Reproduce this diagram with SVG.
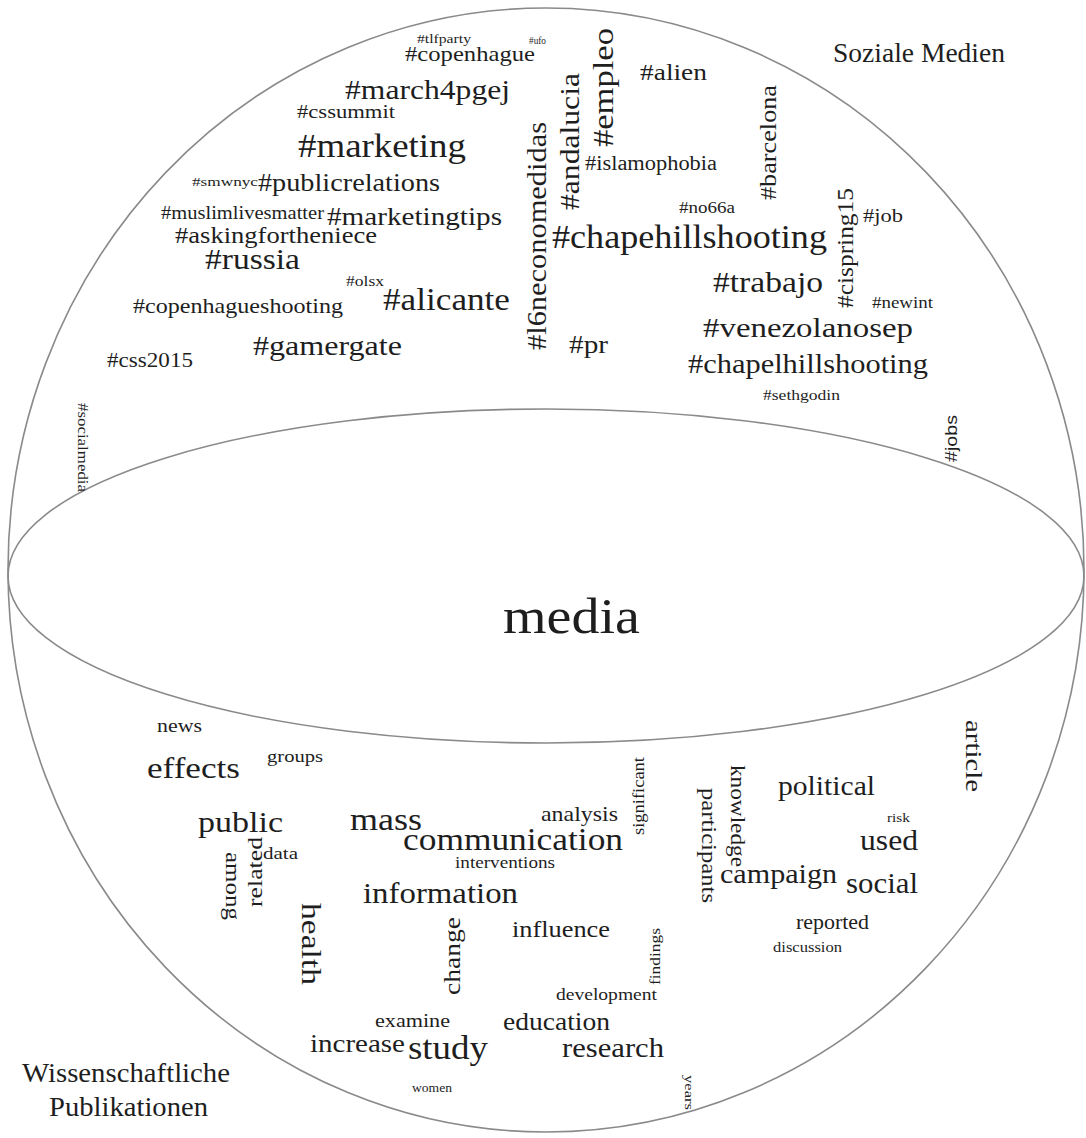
<svg xmlns="http://www.w3.org/2000/svg" width="1086" height="1138" viewBox="0 0 1086 1138">
<style>
text{font-family:"Liberation Serif","Times New Roman",serif;fill:#1e1e1e}
.s{font-family:"Liberation Sans",Arial,sans-serif}
.line{fill:none;stroke:#8a8a8a;stroke-width:1.6}
</style>
<rect width="1086" height="1138" fill="#fff"/>
<g id="sphere">
<ellipse class="line" cx="546" cy="570" rx="538" ry="562"/>
<ellipse class="line" cx="546" cy="576" rx="538" ry="167"/>
</g>
<g id="labels">
<text x="833" y="62" font-size="27" textLength="172" lengthAdjust="spacingAndGlyphs">Soziale Medien</text>
<text x="22" y="1082" font-size="27" textLength="208" lengthAdjust="spacingAndGlyphs">Wissenschaftliche</text>
<text x="49" y="1116" font-size="27" textLength="159" lengthAdjust="spacingAndGlyphs">Publikationen</text>
<text x="503" y="633" font-size="50" textLength="137" lengthAdjust="spacingAndGlyphs">media</text>
</g>
<g id="social-media-words">
<text x="417" y="43" font-size="12" textLength="54" lengthAdjust="spacingAndGlyphs">#tlfparty</text>
<text x="529" y="44" font-size="10" textLength="17" lengthAdjust="spacingAndGlyphs">#ufo</text>
<text x="405" y="61" font-size="22" textLength="130" lengthAdjust="spacingAndGlyphs">#copenhague</text>
<text x="345" y="99" font-size="28" textLength="165" lengthAdjust="spacingAndGlyphs">#march4pgej</text>
<text x="297" y="118" font-size="19" textLength="98" lengthAdjust="spacingAndGlyphs">#cssummit</text>
<text x="298" y="157" font-size="33" textLength="168" lengthAdjust="spacingAndGlyphs">#marketing</text>
<text x="192" y="186" font-size="13" textLength="66" lengthAdjust="spacingAndGlyphs">#smwnyc</text>
<text x="258" y="191" font-size="25" textLength="182" lengthAdjust="spacingAndGlyphs">#publicrelations</text>
<text x="161" y="219" font-size="18" textLength="163" lengthAdjust="spacingAndGlyphs">#muslimlivesmatter</text>
<text x="327" y="225" font-size="26" textLength="175" lengthAdjust="spacingAndGlyphs">#marketingtips</text>
<text x="175" y="243" font-size="23" textLength="202" lengthAdjust="spacingAndGlyphs">#askingfortheniece</text>
<text x="205" y="269" font-size="30" textLength="95" lengthAdjust="spacingAndGlyphs">#russia</text>
<text x="346" y="286" font-size="15" textLength="38" lengthAdjust="spacingAndGlyphs">#olsx</text>
<text x="383" y="310" font-size="31" textLength="127" lengthAdjust="spacingAndGlyphs">#alicante</text>
<text x="133" y="313" font-size="21" textLength="210" lengthAdjust="spacingAndGlyphs">#copenhagueshooting</text>
<text x="253" y="355" font-size="28" textLength="149" lengthAdjust="spacingAndGlyphs">#gamergate</text>
<text x="107" y="367" font-size="20" textLength="86" lengthAdjust="spacingAndGlyphs">#css2015</text>
<text x="640" y="80" font-size="24" textLength="67" lengthAdjust="spacingAndGlyphs">#alien</text>
<text x="585" y="170" font-size="20" textLength="132" lengthAdjust="spacingAndGlyphs">#islamophobia</text>
<text x="679" y="213" font-size="16" textLength="56" lengthAdjust="spacingAndGlyphs">#no66a</text>
<text x="552" y="248" font-size="33" textLength="275" lengthAdjust="spacingAndGlyphs">#chapehillshooting</text>
<text x="863" y="222" font-size="19" textLength="40" lengthAdjust="spacingAndGlyphs">#job</text>
<text x="713" y="292" font-size="30" textLength="110" lengthAdjust="spacingAndGlyphs">#trabajo</text>
<text x="872" y="308" font-size="16" textLength="61" lengthAdjust="spacingAndGlyphs">#newint</text>
<text x="703" y="337" font-size="28" textLength="210" lengthAdjust="spacingAndGlyphs">#venezolanosep</text>
<text x="569" y="353" font-size="25" textLength="39" lengthAdjust="spacingAndGlyphs">#pr</text>
<text x="688" y="373" font-size="28" textLength="240" lengthAdjust="spacingAndGlyphs">#chapelhillshooting</text>
<text x="763" y="400" font-size="15" textLength="77" lengthAdjust="spacingAndGlyphs">#sethgodin</text>
<text transform="translate(546,350) rotate(-90)" font-size="27" textLength="228" lengthAdjust="spacingAndGlyphs">#l6neconomedidas</text>
<text transform="translate(579,210) rotate(-90)" font-size="27" textLength="137" lengthAdjust="spacingAndGlyphs">#andalucia</text>
<text transform="translate(613,147) rotate(-90)" font-size="30" textLength="119" lengthAdjust="spacingAndGlyphs">#empleo</text>
<text transform="translate(776,200) rotate(-90)" font-size="23" textLength="115" lengthAdjust="spacingAndGlyphs">#barcelona</text>
<text transform="translate(853,308) rotate(-90)" font-size="24" textLength="120" lengthAdjust="spacingAndGlyphs">#cispring15</text>
<text class="s" transform="translate(957,462) rotate(-90)" font-size="16" textLength="47" lengthAdjust="spacingAndGlyphs">#jobs</text>
<text transform="translate(78,403) rotate(90)" font-size="14" textLength="89" lengthAdjust="spacingAndGlyphs">#socialmedia</text>
</g>
<g id="publication-words">
<text x="157" y="732" font-size="18" textLength="45" lengthAdjust="spacingAndGlyphs">news</text>
<text x="267" y="762" font-size="17" textLength="56" lengthAdjust="spacingAndGlyphs">groups</text>
<text x="147" y="778" font-size="30" textLength="93" lengthAdjust="spacingAndGlyphs">effects</text>
<text x="198" y="832" font-size="30" textLength="85" lengthAdjust="spacingAndGlyphs">public</text>
<text x="350" y="830" font-size="32" textLength="72" lengthAdjust="spacingAndGlyphs">mass</text>
<text x="403" y="850" font-size="32" textLength="220" lengthAdjust="spacingAndGlyphs">communication</text>
<text x="541" y="821" font-size="21" textLength="77" lengthAdjust="spacingAndGlyphs">analysis</text>
<text x="455" y="868" font-size="16" textLength="100" lengthAdjust="spacingAndGlyphs">interventions</text>
<text x="263" y="859" font-size="16" textLength="35" lengthAdjust="spacingAndGlyphs">data</text>
<text x="363" y="903" font-size="29" textLength="155" lengthAdjust="spacingAndGlyphs">information</text>
<text x="512" y="937" font-size="24" textLength="98" lengthAdjust="spacingAndGlyphs">influence</text>
<text x="778" y="795" font-size="27" textLength="97" lengthAdjust="spacingAndGlyphs">political</text>
<text x="887" y="822" font-size="12" textLength="23" lengthAdjust="spacingAndGlyphs">risk</text>
<text x="860" y="850" font-size="30" textLength="58" lengthAdjust="spacingAndGlyphs">used</text>
<text x="720" y="883" font-size="28" textLength="117" lengthAdjust="spacingAndGlyphs">campaign</text>
<text x="846" y="893" font-size="30" textLength="72" lengthAdjust="spacingAndGlyphs">social</text>
<text x="796" y="929" font-size="20" textLength="73" lengthAdjust="spacingAndGlyphs">reported</text>
<text x="773" y="952" font-size="14" textLength="69" lengthAdjust="spacingAndGlyphs">discussion</text>
<text x="556" y="1000" font-size="16" textLength="101" lengthAdjust="spacingAndGlyphs">development</text>
<text x="375" y="1027" font-size="19" textLength="75" lengthAdjust="spacingAndGlyphs">examine</text>
<text x="503" y="1030" font-size="25" textLength="107" lengthAdjust="spacingAndGlyphs">education</text>
<text x="310" y="1052" font-size="26" textLength="95" lengthAdjust="spacingAndGlyphs">increase</text>
<text x="408" y="1059" font-size="34" textLength="80" lengthAdjust="spacingAndGlyphs">study</text>
<text x="562" y="1057" font-size="28" textLength="102" lengthAdjust="spacingAndGlyphs">research</text>
<text x="412" y="1092" font-size="13" textLength="40" lengthAdjust="spacingAndGlyphs">women</text>
<text transform="translate(262,907) rotate(-90)" font-size="20" textLength="70" lengthAdjust="spacingAndGlyphs">related</text>
<text transform="translate(226,852) rotate(90)" font-size="22" textLength="68" lengthAdjust="spacingAndGlyphs">among</text>
<text transform="translate(302,903) rotate(90)" font-size="28" textLength="82" lengthAdjust="spacingAndGlyphs">health</text>
<text transform="translate(460,995) rotate(-90)" font-size="24" textLength="78" lengthAdjust="spacingAndGlyphs">change</text>
<text transform="translate(644,835) rotate(-90)" font-size="16" textLength="78" lengthAdjust="spacingAndGlyphs">significant</text>
<text transform="translate(660,985) rotate(-90)" font-size="14" textLength="57" lengthAdjust="spacingAndGlyphs">findings</text>
<text transform="translate(731,765) rotate(90)" font-size="22" textLength="102" lengthAdjust="spacingAndGlyphs">knowledge</text>
<text transform="translate(702,788) rotate(90)" font-size="22" textLength="115" lengthAdjust="spacingAndGlyphs">participants</text>
<text transform="translate(966,720) rotate(90)" font-size="24" textLength="72" lengthAdjust="spacingAndGlyphs">article</text>
<text transform="translate(685,1075) rotate(90)" font-size="12" textLength="35" lengthAdjust="spacingAndGlyphs">years</text>
</g>
</svg>
